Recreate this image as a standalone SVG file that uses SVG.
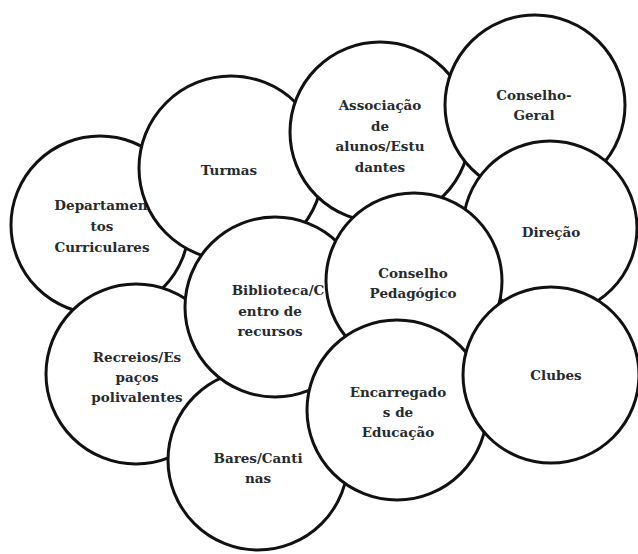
<svg xmlns="http://www.w3.org/2000/svg" width="638" height="554" viewBox="0 0 638 554">
<style>
.c{fill:#fff;stroke:#111;stroke-width:3}
.t{font-family:"DejaVu Serif","Liberation Serif",serif;font-weight:bold;font-size:13.5px;fill:#262b2e;text-anchor:middle}
</style>
<rect width="638" height="554" fill="#fff"/>
<g id="connectors"></g>
<g id="departamentos"><circle class="c" cx="100" cy="225" r="89"/><text class="t"><tspan x="101" y="210">Departamen</tspan><tspan x="102" y="231">tos</tspan><tspan x="102" y="252">Curriculares</tspan></text></g>
<g id="turmas"><circle class="c" cx="231" cy="168" r="92"/><text class="t" x="229" y="175">Turmas</text></g>
<g id="associacao"><circle class="c" cx="380" cy="132" r="90"/><text class="t"><tspan x="380" y="110">Associação</tspan><tspan x="380" y="131">de</tspan><tspan x="380" y="151">alunos/Estu</tspan><tspan x="380" y="172">dantes</tspan></text></g>
<g id="conselho-geral"><circle class="c" cx="535" cy="105" r="90"/><text class="t"><tspan x="534" y="100">Conselho-</tspan><tspan x="534" y="120">Geral</tspan></text></g>
<g id="direcao"><circle class="c" cx="550" cy="228" r="87"/><text class="t" x="551" y="237">Direção</text></g>
<g id="recreios"><circle class="c" cx="136" cy="374" r="90"/><text class="t"><tspan x="137" y="362">Recreios/Es</tspan><tspan x="137" y="382">paços</tspan><tspan x="137" y="402">polivalentes</tspan></text></g>
<g id="bares"><circle class="c" cx="258" cy="460" r="90"/><text class="t"><tspan x="258" y="463">Bares/Canti</tspan><tspan x="258" y="483">nas</tspan></text></g>
<g id="biblioteca"><circle class="c" cx="275" cy="307" r="90"/><text class="t"><tspan x="278" y="295">Biblioteca/C</tspan><tspan x="270" y="316">entro de</tspan><tspan x="270" y="336">recursos</tspan></text></g>
<g id="pedagogico"><circle class="c" cx="414" cy="281" r="88"/><text class="t"><tspan x="413" y="278">Conselho</tspan><tspan x="413" y="298">Pedagógico</tspan></text></g>
<g id="encarregados"><circle class="c" cx="397" cy="410" r="90"/><text class="t"><tspan x="398" y="397">Encarregado</tspan><tspan x="398" y="417">s de</tspan><tspan x="398" y="437">Educação</tspan></text></g>
<g id="clubes"><circle class="c" cx="551" cy="375" r="88"/><text class="t" x="556" y="380">Clubes</text></g>
</svg>
